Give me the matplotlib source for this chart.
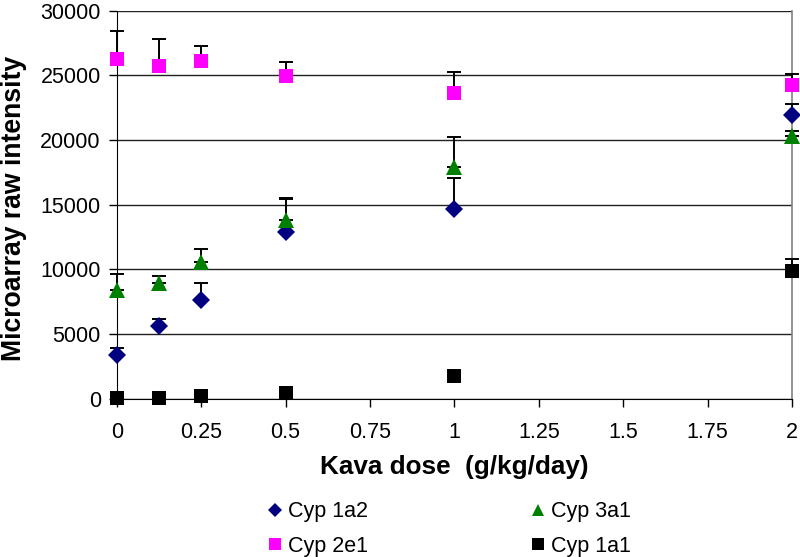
import matplotlib
matplotlib.use("Agg")
import matplotlib.pyplot as plt
from matplotlib.lines import Line2D

plt.rcParams['font.family'] = ['Liberation Sans', 'DejaVu Sans']

doses = [0, 0.125, 0.25, 0.5, 1, 2]

cyp1a2 = [3380, 5620, 7630, 12910, 14670, 21940]
cyp1a2_err = [560, 540, 1340, 2530, 2370, 820]

cyp3a1 = [8400, 8950, 10600, 13850, 17950, 20300]
cyp3a1_err = [1240, 540, 1000, 1690, 2260, 420]

cyp2e1 = [26240, 25750, 26140, 24950, 23610, 24260]
cyp2e1_err = [2210, 2040, 1110, 1110, 1650, 840]

cyp1a1 = [60, 60, 180, 440, 1750, 9870]
cyp1a1_err = [0, 0, 0, 200, 420, 930]

series = [
    ("Cyp 1a2", cyp1a2, cyp1a2_err, "D", "#000080", 9.0),
    ("Cyp 3a1", cyp3a1, cyp3a1_err, "^", "#008000", 11.5),
    ("Cyp 2e1", cyp2e1, cyp2e1_err, "s", "#ff00ff", 10.0),
    ("Cyp 1a1", cyp1a1, cyp1a1_err, "s", "#000000", 10.0),
]

xticks = [0, 0.25, 0.5, 0.75, 1, 1.25, 1.5, 1.75, 2]
xticklabels = ["0", "0.25", "0.5", "0.75", "1", "1.25", "1.5", "1.75", "2"]
yticks = [0, 5000, 10000, 15000, 20000, 25000, 30000]

fig = plt.figure(figsize=(8, 5.57), dpi=100)
ax = fig.add_axes([0.146, 0.284, 0.844, 0.697])

for name, vals, errs, mk, col, ms in series:
    ax.errorbar(doses, vals, yerr=[[0] * len(errs), errs], fmt="none",
                ecolor="black", elinewidth=1.4, capsize=5, capthick=1.4,
                zorder=3, clip_on=False)
    ax.plot(doses, vals, linestyle="none", marker=mk, color=col,
            markersize=ms, markeredgewidth=0, zorder=4, clip_on=False)

ax.set_xlim(0, 2)
ax.set_ylim(0, 30000)
ax.set_xticks(xticks)
ax.set_xticklabels(xticklabels)
ax.set_yticks(yticks)
ax.set_yticklabels([str(v) for v in yticks])

ax.yaxis.grid(True, color="#222222", linewidth=1.0)
ax.set_axisbelow(True)
ax.spines["top"].set_visible(False)
ax.spines["right"].set_color("#808080")
ax.spines["right"].set_linewidth(1.2)
ax.spines["left"].set_color("black")
ax.spines["bottom"].set_color("black")
ax.tick_params(axis="both", direction="out", length=6, width=1, labelsize=15.5, colors="black")
ax.tick_params(axis="x", pad=11)
ax.tick_params(axis="y", pad=5.5)

ax.set_xlabel("Kava dose  (g/kg/day)", fontsize=18.8, fontweight="bold", labelpad=8)
ax.set_ylabel("Microarray raw intensity", fontsize=19.2, fontweight="bold")
ax.yaxis.set_label_coords(-0.133, 0.49)

handles = []
for name, vals, errs, mk, col, ms in series:
    handles.append(Line2D([], [], linestyle="none", marker=mk, color=col,
                          markersize=ms * 0.8, markeredgewidth=0, label=name))
order = [0, 2, 1, 3]
leg = fig.legend([handles[i] for i in order], [series[i][0] for i in order],
                 ncol=2, loc="center", bbox_to_anchor=(0.561, 0.05),
                 frameon=False, fontsize=15.5, handlelength=0.8,
                 handletextpad=0.2, columnspacing=7.5, labelspacing=0.62)

fig.savefig("out.png", dpi=100)
